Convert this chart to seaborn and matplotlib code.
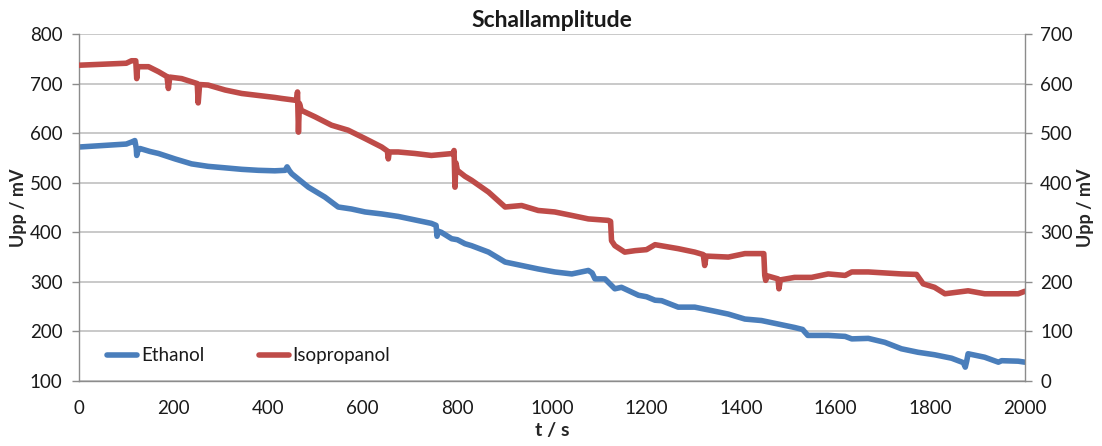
import matplotlib
matplotlib.use("Agg")
import matplotlib.pyplot as plt
import seaborn as sns
import pandas as pd

# Ethanol: time in s, peak-to-peak amplitude in mV (left axis)
t_ethanol = [0, 50, 100, 111, 118, 121, 122, 125, 129, 150, 168, 203, 238, 273,
             309, 344, 379, 414, 436, 440, 445, 450, 485, 520, 548, 576, 605,
             640, 675, 710, 745, 755, 757, 760, 766, 788, 800, 816, 830, 866,
             901, 936, 971, 1006, 1042, 1077, 1085, 1091, 1112, 1133, 1147,
             1183, 1200, 1218, 1232, 1267, 1302, 1338, 1373, 1408, 1443, 1478,
             1513, 1530, 1541, 1584, 1620, 1634, 1669, 1704, 1739, 1774, 1809,
             1845, 1870, 1874, 1877, 1880, 1915, 1944, 1951, 1986, 2000]
u_ethanol = [572, 575, 578, 582, 585, 570, 555, 566, 569, 563, 559, 548, 538, 533,
             530, 527, 525, 524, 525, 532, 524, 518, 491, 471, 451, 447, 441,
             437, 432, 425, 418, 414, 392, 402, 400, 387, 385, 377, 373, 360,
             340, 333, 326, 320, 316, 323, 318, 306, 306, 286, 289,
             273, 270, 263, 262, 249, 249, 242, 235, 225, 222, 215,
             208, 204, 192, 192, 190, 185, 186, 178, 165, 158, 153,
             146, 137, 128, 140, 155, 148, 138, 141, 140, 138]

# Isopropanol: time in s, peak-to-peak amplitude in mV (right axis)
t_isopropanol = [0, 50, 100, 111, 120, 122, 124, 147, 168, 186, 189, 192, 217,
                 250, 252, 255, 273, 309, 344, 379, 414, 428, 460, 462, 464, 466,
                 470, 499, 534, 569, 605, 640, 652, 654, 656, 675, 710, 745, 791,
                 793, 795, 797, 800, 816, 830, 866, 901, 936, 971, 1006, 1042,
                 1077, 1119, 1124, 1126, 1133, 1154, 1176, 1200, 1218, 1267, 1302,
                 1320, 1323, 1326, 1373, 1408, 1443, 1448, 1450, 1452, 1456, 1478,
                 1480, 1483, 1513, 1549, 1584, 1620, 1634, 1669, 1704, 1739, 1771,
                 1785, 1809, 1831, 1880, 1915, 1951, 1986, 2000]
u_isopropanol = [637, 639, 641, 646, 646, 610, 634, 634, 624, 614, 590, 613, 610,
                 600, 561, 598, 597, 587, 580, 576, 572, 570, 566, 583, 502, 560,
                 546, 533, 516, 506, 489, 472, 464, 448, 462, 462, 459, 455, 459,
                 465, 391, 440, 425, 413, 405, 381, 351, 354, 344, 341, 334,
                 327, 324, 322, 283, 273, 260, 263, 265, 275, 267, 260,
                 255, 233, 252, 250, 257, 257, 257, 213, 203, 212, 206,
                 186, 204, 209, 209, 216, 213, 220, 220, 218, 216, 215,
                 196, 189, 176, 182, 176, 176, 176, 181]

x_ticks = list(range(0, 2001, 200))
left_ticks = list(range(100, 801, 100))
right_ticks = list(range(0, 701, 100))

BLUE = "#4a7ebb"
RED = "#be4b48"
GRID = "#c0c0c0"
SPINE = "#8c8c8c"

sns.set_theme(style="white")
plt.rcParams["font.family"] = ["Lato", "DejaVu Sans"]
plt.rcParams["text.color"] = "#1a1a1a"

df_eth = pd.DataFrame({"t": t_ethanol, "u": u_ethanol})
df_iso = pd.DataFrame({"t": t_isopropanol, "u": u_isopropanol})

fig = plt.figure(figsize=(11.02, 4.46), dpi=100)
ax = fig.add_axes([0.0717, 0.1457, 0.8583, 0.7781])
ax2 = ax.twinx()

sns.lineplot(data=df_eth, x="t", y="u", ax=ax, color=BLUE, lw=4,
             label="Ethanol", legend=False)
sns.lineplot(data=df_iso, x="t", y="u", ax=ax2, color=RED, lw=4,
             label="Isopropanol", legend=False)

ax.set_xlim(0, 2000)
ax.set_ylim(100, 800)
ax2.set_ylim(0, 700)
ax.set_xticks(x_ticks)
ax.set_yticks(left_ticks)
ax2.set_yticks(right_ticks)

ax.grid(axis="y", color=GRID, lw=1.2)
ax.set_axisbelow(True)

for a in (ax, ax2):
    for side, sp in a.spines.items():
        sp.set_color(SPINE)
        sp.set_linewidth(1.0)
    a.spines["top"].set_visible(False)
    a.tick_params(axis="both", which="major", direction="out", length=5,
                  width=1, color=SPINE, labelsize=13.5, labelcolor="#1a1a1a", pad=7)
ax.spines["right"].set_visible(False)
ax2.spines["left"].set_visible(False)
ax2.spines["bottom"].set_visible(False)
ax.tick_params(axis="x", length=5, pad=9)
ax2.tick_params(axis="y", pad=6)

ax.set_xlabel("t / s", fontsize=14, fontweight="bold", labelpad=3)
ax.set_ylabel("Upp / mV", fontsize=13, fontweight="bold", labelpad=2)
ax2.set_ylabel("Upp / mV", fontsize=13, fontweight="bold", labelpad=3, rotation=90)
ax.set_title("Schallamplitude", fontsize=16.5, fontweight="bold", pad=5)

h1, l1 = ax.get_legend_handles_labels()
h2, l2 = ax2.get_legend_handles_labels()
ax2.legend(h1 + h2, l1 + l2, loc="lower left", bbox_to_anchor=(0.012, 0.0),
           ncol=2, frameon=False, fontsize=13.5, handlelength=1.6,
           handletextpad=0.2, columnspacing=2.9)

fig.savefig("out.png", dpi=100)
